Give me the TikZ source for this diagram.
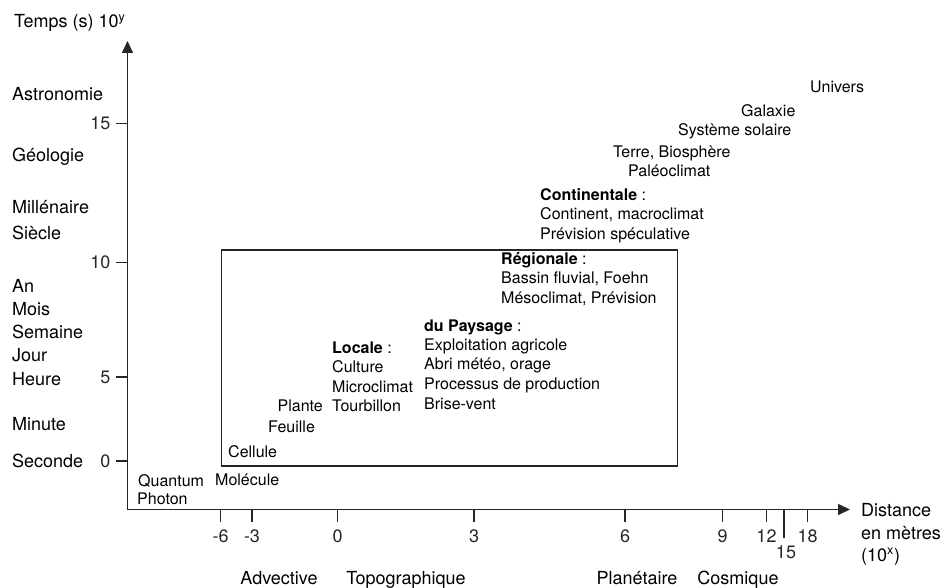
\documentclass[tikz,border=0pt]{standalone}
\usepackage{fontspec}
\setmainfont{TeX Gyre Heros}
\usetikzlibrary{arrows.meta}

\tikzset{
  axisline/.style={line width=1.6pt, black!85, {Triangle[length=12pt,width=11pt]}-{Triangle[length=12pt,width=11pt]}},
  tickline/.style={line width=1.3pt, black!85},
  bigtxt/.style={font=\fontsize{18}{21}\selectfont, inner sep=0pt},
  smalltxt/.style={font=\fontsize{16}{19}\selectfont, inner sep=0pt, anchor=base west},
}

\begin{document}
\begin{tikzpicture}[x=1pt,y=-1pt]
            \useasboundingbox (0,0) rectangle (946,588);
            \coordinate (O) at (127.5,509.5);
            \coordinate (ytip) at (127.5,41);
            \coordinate (xtip) at (850,509.5);
            \draw[axisline] (ytip) -- (O) -- (xtip);
            % ticks
            \foreach \y/\lab in {461/0, 377/5, 262.5/10, 123.5/15}
                \draw[tickline] (127.5,\y) -- (116,\y) node[bigtxt,anchor=east,xshift=-5pt] {\lab};
            \foreach \x/\lab in {220.7/-6, 252/-3, 337.7/0, 474/3, 625/6, 722.7/9, 766.5/12, 807.7/18}
                \draw[tickline] (\x,509.5) -- (\x,522) node[bigtxt,anchor=north,yshift=-7pt] {\lab};
            \draw[tickline] (784,509.5) -- (784,538) node[bigtxt,anchor=north,yshift=-7pt,xshift=2pt] {15};
            % axis titles
            \node[bigtxt,anchor=base west] (ylab) at (14,28) {Temps (s) 10\textsuperscript{y}};
            \node[bigtxt,anchor=base west] (xlab1) at (861,516) {Distance};
            \node[bigtxt,anchor=base west] (xlab2) at (861,539) {en mètres};
            \node[bigtxt,anchor=base west] (xlab3) at (861,561) {(10\textsuperscript{x})};
            % time levels
            \foreach \lab/\yy [count=\i] in {Astronomie/101, Géologie/162, Millénaire/214, Siècle/240,
                An/293, Mois/316, Semaine/339, Jour/362, Heure/385, Minute/430, Seconde/467}
                \node[bigtxt,anchor=base west] (lvl\i) at (12,\yy) {\lab};
            % space scales
            \foreach \lab/\xx [count=\i] in {Advective/279, Topographique/406, Planétaire/637, Cosmique/738}
                \node[bigtxt,anchor=base] (sc\i) at (\xx,584) {\lab};
            % box
            \draw[tickline] (221.5,250) rectangle (677.5,466);
            % phenomena
            \node[smalltxt] (quantum) at (138,486) {Quantum};
            \node[smalltxt] (photon) at (137,504) {Photon};
            \node[smalltxt] (molecule) at (215,485) {Molécule};
            \node[smalltxt] (cellule) at (228,457) {Cellule};
            \node[smalltxt] (feuille) at (268,432) {Feuille};
            \node[smalltxt,anchor=base east] (plante) at (323,411) {Plante};
            \node[smalltxt] (locale) at (332,354) {\textbf{Locale} :};
            \node[smalltxt] (culture) at (332,373) {Culture};
            \node[smalltxt] (micro) at (332,392) {Microclimat};
            \node[smalltxt] (tourb) at (332,411) {Tourbillon};
            \node[smalltxt] (paysage) at (424,332) {\textbf{du Paysage} :};
            \node[smalltxt] (exploit) at (424,351) {Exploitation agricole};
            \node[smalltxt] (abri) at (424,370) {Abri météo, orage};
            \node[smalltxt] (process) at (424,389) {Processus de production};
            \node[smalltxt] (brise) at (424,409) {Brise-vent};
            \node[smalltxt] (regio) at (501,265) {\textbf{Régionale} :};
            \node[smalltxt] (bassin) at (501,284) {Bassin fluvial, Foehn};
            \node[smalltxt] (meso) at (501,304) {Mésoclimat, Prévision};
            \node[smalltxt] (conti) at (540,201) {\textbf{Continentale} :};
            \node[smalltxt] (macro) at (540,220) {Continent, macroclimat};
            \node[smalltxt] (specu) at (540,240) {Prévision spéculative};
            \node[smalltxt] (paleo) at (628,177) {Paléoclimat};
            \node[smalltxt] (terre) at (613,158) {Terre, Biosphère};
            \node[smalltxt] (systeme) at (678,136) {Système solaire};
            \node[smalltxt] (galaxie) at (741,117) {Galaxie};
            \node[smalltxt] (univers) at (810,93) {Univers};
        \end{tikzpicture}
\end{document}
